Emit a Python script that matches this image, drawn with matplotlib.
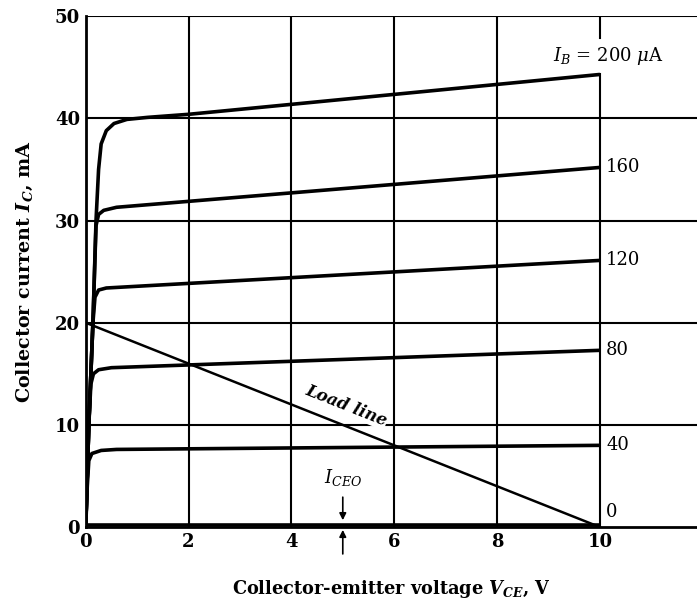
import numpy as np
import matplotlib.pyplot as plt

# characteristic curves (V_CE in V, I_C in mA)
vce_200 = [0, 0.06, 0.14, 0.2, 0.25, 0.3, 0.4, 0.55, 0.8, 1.2, 2, 10]
ic_200 = [0, 10, 20, 30, 35, 37.5, 38.8, 39.5, 39.9, 40.1, 40.4, 44.3]
vce_160 = [0, 0.06, 0.14, 0.2, 0.25, 0.35, 0.6, 10]
ic_160 = [0, 10, 20, 29.5, 30.6, 31.0, 31.3, 35.2]
vce_120 = [0, 0.06, 0.14, 0.18, 0.25, 0.4, 10]
ic_120 = [0, 10, 20, 22.5, 23.2, 23.4, 26.1]
vce_80 = [0, 0.06, 0.1, 0.15, 0.25, 0.5, 10]
ic_80 = [0, 10, 14, 15.0, 15.4, 15.6, 17.3]
vce_40 = [0, 0.03, 0.06, 0.12, 0.3, 0.6, 10]
ic_40 = [0, 4, 6.5, 7.2, 7.5, 7.6, 8.0]
vce_0 = [0, 10]
ic_0 = [0.25, 0.25]
load_v = [0, 10]
load_i = [20, 0]

curve_labels = ['0', '40', '80', '120', '160']
curve_ends = [1.5, 8.0, 17.3, 26.1, 35.2]

plt.rcParams['font.family'] = 'DejaVu Serif'
plt.rcParams['mathtext.fontset'] = 'dejavuserif'

fig = plt.figure(figsize=(6.97, 6.01), dpi=100)
ax = fig.add_axes([0.123, 0.123, 0.877, 0.85])
ax.set_xlim(0, 11.89)
ax.set_ylim(0, 50)

# grid (the 10 V line is broken where the I_B label sits)
for v in [2, 4, 6, 8]:
    ax.axvline(v, color='black', lw=1.5, zorder=1)
ax.plot([10, 10], [0, ic_200[-1]], color='black', lw=1.5, zorder=1)
ax.plot([10, 10], [47.9, 50], color='black', lw=1.5, zorder=1)
for i in [10, 20, 30, 40, 50]:
    ax.axhline(i, color='black', lw=1.5, zorder=1)

lw = 2.6
for v, i in [(vce_200, ic_200), (vce_160, ic_160), (vce_120, ic_120),
             (vce_80, ic_80), (vce_40, ic_40), (vce_0, ic_0)]:
    ax.plot(v, i, color='black', lw=lw, solid_capstyle='butt', zorder=3)
ax.plot(load_v, load_i, color='black', lw=1.8, zorder=3)

for lab, y in zip(curve_labels, curve_ends):
    ax.text(10.12, y, lab, fontsize=13, va='center', ha='left')
ax.text(9.08, 46.1, r'$I_B$ = 200 $\mu$A', fontsize=13, va='center', ha='left')

ax.text(5.0, 11.1, 'Load line', fontsize=12, style='italic', fontweight='bold',
        rotation=-21.7, rotation_mode='anchor', ha='center', va='bottom',
        bbox=dict(facecolor='white', edgecolor='none', pad=0.5), zorder=4)

# I_CEO marker
ax.text(5.0, 3.8, r'$I_{CEO}$', fontsize=13, ha='center', va='bottom')
ax.annotate('', xy=(5.0, 0.4), xytext=(5.0, 3.2),
            arrowprops=dict(arrowstyle='-|>', color='black', lw=1.2, mutation_scale=10))
ax.annotate('', xy=(5.0, 0.0), xytext=(5.0, -2.9),
            arrowprops=dict(arrowstyle='-|>', color='black', lw=1.2, mutation_scale=10),
            annotation_clip=False)

ax.spines['right'].set_visible(False)
ax.spines['top'].set_visible(False)
ax.spines['left'].set_linewidth(2)
ax.spines['bottom'].set_linewidth(2)
ax.set_xticks([0, 2, 4, 6, 8, 10])
ax.set_yticks([0, 10, 20, 30, 40, 50])
ax.tick_params(length=0, labelsize=13, pad=4)
for t in ax.get_xticklabels() + ax.get_yticklabels():
    t.set_fontweight('bold')

ax.set_xlabel(r'Collector-emitter voltage $\mathbfit{V_{CE}}$, V', fontsize=12.8,
              fontweight='bold', labelpad=20)
ax.set_ylabel(r'Collector current $\mathbfit{I_C}$, mA', fontsize=13.8,
              fontweight='bold', labelpad=14)

fig.savefig('out.png', dpi=100)
